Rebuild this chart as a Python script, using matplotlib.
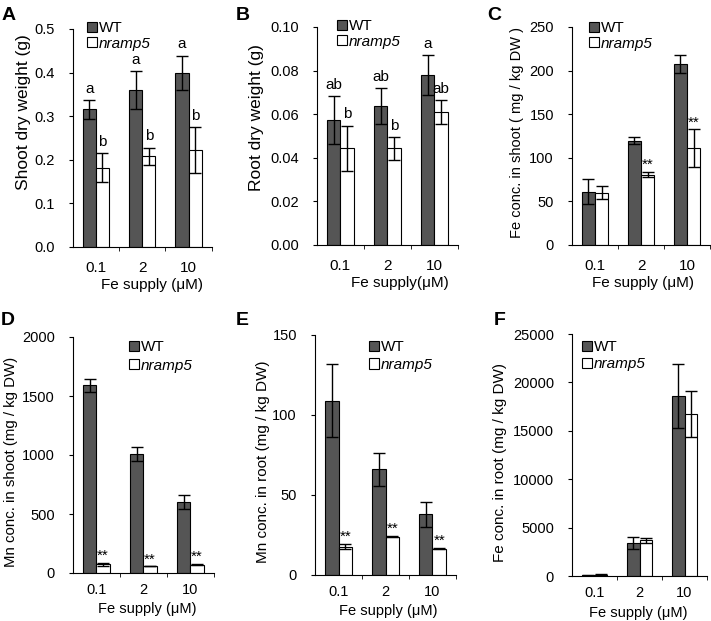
import matplotlib
matplotlib.use("Agg")
import matplotlib.pyplot as plt
import numpy as np

plt.rcParams['font.family'] = ['Liberation Sans', 'DejaVu Sans']
plt.rcParams['font.size'] = 11

groups = ['0.1', '2', '10']

# A: shoot dry weight (g)
a_wt = [0.3155, 0.360, 0.400]
a_wt_err = [0.021, 0.044, 0.039]
a_mut = [0.182, 0.208, 0.222]
a_mut_err = [0.033, 0.020, 0.053]
a_wt_lab = ['a', 'a', 'a']
a_mut_lab = ['b', 'b', 'b']

# B: root dry weight (g)
b_wt = [0.0575, 0.0636, 0.0779]
b_wt_err = [0.011, 0.0082, 0.0092]
b_mut = [0.0444, 0.0443, 0.0608]
b_mut_err = [0.0104, 0.0053, 0.0055]
b_wt_lab = ['ab', 'ab', 'a']
b_mut_lab = ['b', 'b', 'ab']

# C: Fe conc. in shoot
c_wt = [61.3, 119.5, 207.7]
c_wt_err = [14, 4.2, 10.5]
c_mut = [60.2, 80.5, 111]
c_mut_err = [7, 3, 21.5]
c_mut_lab = ['', '**', '**']

# D: Mn conc. in shoot
d_wt = [1589, 1006, 603]
d_wt_err = [55, 60, 57]
d_mut = [73, 56, 70]
d_mut_err = [12, 0, 6]
d_mut_lab = ['**', '**', '**']

# E: Mn conc. in root
e_wt = [109, 66, 38.1]
e_wt_err = [22.8, 10.4, 7.8]
e_mut = [17.7, 24, 16.5]
e_mut_err = [1.7, 0.5, 0.5]
e_mut_lab = ['**', '**', '**']

# F: Fe conc. in root
f_wt = [90, 3414, 18590]
f_wt_err = [40, 650, 3310]
f_mut = [120, 3690, 16720]
f_mut_err = [40, 280, 2380]

W, H = 711, 621
fig = plt.figure(figsize=(W / 100, H / 100), dpi=100)


def fx(px):
    return px / W


def fy(py):
    return 1 - py / H


def panel(box, wt, wt_err, mut, mut_err, ymax, ystep, fmt, ylabel, ylab_xy, ylab_size,
          xlabel, xlab_xy, letter, letter_xy, leg_xy, leg_gap,
          wt_lab=None, mut_lab=None, xpad=10, xsize=11):
    left, top, right, bottom = box
    ax = fig.add_axes([fx(left), fy(bottom), (right - left) / W, (bottom - top) / H])
    x = np.arange(len(groups))
    w = 0.285
    ekw = dict(elinewidth=1, capsize=4, capthick=1, ecolor='black')
    b1 = ax.bar(x - w / 2, wt, w, yerr=wt_err, color='#555555', edgecolor='black',
                linewidth=0.8, error_kw=ekw, label='WT')
    b2 = ax.bar(x + w / 2, mut, w, yerr=mut_err, color='white', edgecolor='black',
                linewidth=0.8, error_kw=ekw, label='nramp5')
    if wt_lab:
        for xi, v, e, t in zip(x, wt, wt_err, wt_lab):
            ax.annotate(t, (xi - w / 2, v + e), xytext=(0, 3), textcoords='offset points',
                        ha='center', va='bottom', fontsize=11)
    if mut_lab:
        for xi, v, e, t in zip(x, mut, mut_err, mut_lab):
            dy = 3 if t.isalpha() else 0
            ax.annotate(t, (xi + w / 2, v + e), xytext=(0, dy), textcoords='offset points',
                        ha='center', va='bottom', fontsize=11)
    ax.set_xlim(-0.5, 2.5)
    ax.set_ylim(0, ymax)
    ticks = np.arange(0, ymax + ystep / 2, ystep)
    ax.set_yticks(ticks)
    ax.set_yticklabels([fmt.format(t) for t in ticks], fontsize=10.5)
    ax.set_xticks(x)
    ax.set_xticklabels(groups, fontsize=xsize)
    ax.set_xticks([0.5, 1.5, 2.5], minor=True)
    ax.tick_params(axis='x', which='major', length=0, pad=xpad)
    ax.tick_params(axis='x', which='minor', length=3, direction='out')
    ax.tick_params(axis='y', length=3, direction='out', pad=10)
    ax.spines['top'].set_visible(False)
    ax.spines['right'].set_visible(False)
    fig.text(fx(ylab_xy[0]), fy(ylab_xy[1]), ylabel, rotation=90, ha='center', va='center',
             fontsize=ylab_size)
    fig.text(fx(xlab_xy[0]), fy(xlab_xy[1]), xlabel, ha='center', va='center', fontsize=xsize)
    leg = ax.legend(handles=[b1, b2], loc='upper left',
                    bbox_to_anchor=(fx(leg_xy[0]), fy(leg_xy[1])),
                    bbox_transform=fig.transFigure, frameon=False,
                    handlelength=0.65, handleheight=0.65, handletextpad=0.15,
                    labelspacing=leg_gap, borderaxespad=0, borderpad=0, fontsize=11)
    leg.get_texts()[1].set_fontstyle('italic')
    fig.text(fx(letter_xy[0]), fy(letter_xy[1]), letter, fontsize=14, fontweight='bold',
             ha='left', va='baseline')
    return ax


panel((72.7, 29, 211.7, 247), a_wt, a_wt_err, a_mut, a_mut_err, 0.5, 0.1, '{:.1f}',
      'Shoot dry weight (g)', (24, 112), 12.5, 'Fe supply (\u03bcM)', (152, 285),
      'A', (2, 20), (87, 21), 0.1, a_wt_lab, a_mut_lab)

panel((316.7, 27, 457.7, 245), b_wt, b_wt_err, b_mut, b_mut_err, 0.10, 0.02, '{:.2f}',
      'Root dry weight (g)', (257, 118), 12.5, 'Fe supply(\u03bcM)', (400, 283),
      'B', (236, 20), (337, 19), 0.1, b_wt_lab, b_mut_lab)

panel((572, 27, 710, 245), c_wt, c_wt_err, c_mut, c_mut_err, 250, 50, '{:.0f}',
      'Fe conc. in shoot ( mg / kg DW )', (517, 132), 10.5, 'Fe supply (\u03bcM)', (643, 283),
      'C', (487, 20), (589, 21), 0.1, None, c_mut_lab)

panel((72.7, 337, 213.7, 573), d_wt, d_wt_err, d_mut, d_mut_err, 2000, 500, '{:.0f}',
      'Mn conc. in shoot (mg / kg DW)', (11.5, 462), 10.8, 'Fe supply (\u03bcM)', (147, 609),
      'D', (1, 325), (129, 340), 0.3, None, d_mut_lab, xpad=7, xsize=10.5)

panel((315, 335, 456, 575), e_wt, e_wt_err, e_mut, e_mut_err, 150, 50, '{:.0f}',
      'Mn conc. in root (mg / kg DW)', (263, 462), 11, 'Fe supply (\u03bcM)', (388, 611),
      'E', (236, 325), (369, 340), 0.25, None, e_mut_lab, xpad=7, xsize=10.5)

panel((572, 334, 707, 576), f_wt, f_wt_err, f_mut, f_mut_err, 25000, 5000, '{:.0f}',
      'Fe conc. in root (mg / kg DW)', (500, 463), 11, 'Fe supply (\u03bcM)', (638, 613),
      'F', (494, 325), (582, 340), 0.2, xpad=7, xsize=10.5)

fig.savefig('out.png', dpi=100)
